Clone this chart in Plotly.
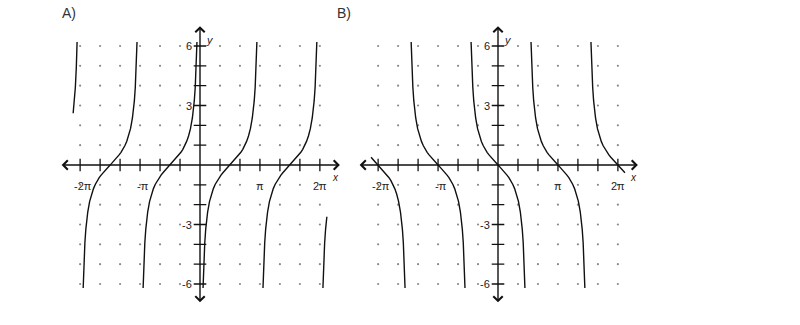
import numpy as np
import plotly.graph_objects as go

PI = np.pi

# One branch of each curve: offset from the branch's left asymptote -> y
BRANCH_T = [0.16, 0.2, 0.25, 0.3, 0.366, 0.4, 0.5, 0.6, 0.7, 0.8, 0.9, 1.0, 1.1, 1.2, 1.3, 1.4, 1.5,
            1.571,
            1.642, 1.742, 1.842, 1.942, 2.042, 2.142, 2.242, 2.342, 2.442, 2.542, 2.642, 2.742,
            2.776, 2.842, 2.892, 2.942, 2.982]
BRANCH_Y_A = [-6.2, -4.93, -3.92, -3.23, -2.61, -2.37, -1.83, -1.46, -1.19, -0.97, -0.79, -0.64,
              -0.51, -0.39, -0.28, -0.17, -0.07,
              0.0,
              0.07, 0.17, 0.28, 0.39, 0.51, 0.64, 0.79, 0.97, 1.19, 1.46, 1.83, 2.37,
              2.61, 3.23, 3.92, 4.93, 6.2]
BRANCH_Y_B = [6.2, 4.93, 3.92, 3.23, 2.61, 2.37, 1.83, 1.46, 1.19, 0.97, 0.79, 0.64,
              0.51, 0.39, 0.28, 0.17, 0.07,
              0.0,
              -0.07, -0.17, -0.28, -0.39, -0.51, -0.64, -0.79, -0.97, -1.19, -1.46, -1.83, -2.37,
              -2.61, -3.23, -3.92, -4.93, -6.2]

# Left asymptotes of the branches in each panel
ASYM_A = [-3 * PI, -2 * PI, -PI, 0.0, PI, 2 * PI]
ASYM_B = [-2.5 * PI, -1.5 * PI, -0.5 * PI, 0.5 * PI, 1.5 * PI]
X_LIMIT = 6.66  # domain of the plotted function (both panels)

# Grid / ticks
GRID_X_STEPS = [k for k in range(-6, 7) if k != 0]      # multiples of pi/3
GRID_Y_VALS = [j for j in range(-6, 7) if j != 0]
X_TICK_VALS = [-2 * PI, -PI, PI, 2 * PI]
X_TICK_LABELS = ["-2π", "-π", "π", "2π"]
Y_TICK_VALS = [6, 3, -3, -6]
Y_TICK_LABELS = ["6", "3", "-3", "-6"]
PANEL_LABELS = ["A)", "B)"]

X_AXIS_END = 7 * PI / 3
Y_AXIS_END = 7.0

FONT = "Liberation Sans, Arial, sans-serif"

fig = go.Figure()
annotations = []


def branch_xy(asyms, ys):
    xs, yv = [], []
    for a in asyms:
        seg_x, seg_y = [], []
        for t, y in zip(BRANCH_T, ys):
            x = a + t
            if -X_LIMIT <= x <= X_LIMIT:
                seg_x.append(x)
                seg_y.append(y)
        if seg_x:
            xs += seg_x + [None]
            yv += seg_y + [None]
    return xs, yv


panels = [
    ("x", "y", ASYM_A, BRANCH_Y_A, [0.06875, 0.43125], 60),
    ("x2", "y2", ASYM_B, BRANCH_Y_B, [0.44125, 0.80375], 335),
]

grid_x = [k * PI / 3 for k in GRID_X_STEPS]

for i, (xr, yr, asyms, ys, dom, label_px) in enumerate(panels):
    gx, gy = [], []
    for x in grid_x:
        for y in GRID_Y_VALS:
            gx.append(x)
            gy.append(y)
    fig.add_trace(go.Scatter(x=gx, y=gy, mode="markers", xaxis=xr, yaxis=yr,
                             marker=dict(size=2.2, color="#8a8a8a"),
                             hoverinfo="skip", showlegend=False))
    cx, cy = branch_xy(asyms, ys)
    fig.add_trace(go.Scatter(x=cx, y=cy, mode="lines", xaxis=xr, yaxis=yr,
                             line=dict(color="#111", width=1.4),
                             connectgaps=False, hoverinfo="skip", showlegend=False))
    # tick marks
    fig.add_trace(go.Scatter(x=grid_x, y=[0] * len(grid_x), mode="markers", xaxis=xr, yaxis=yr,
                             marker=dict(symbol="line-ns", size=9,
                                         line=dict(width=1.3, color="#111")),
                             hoverinfo="skip", showlegend=False))
    fig.add_trace(go.Scatter(x=[0] * len(GRID_Y_VALS), y=GRID_Y_VALS, mode="markers",
                             xaxis=xr, yaxis=yr,
                             marker=dict(symbol="line-ew", size=9,
                                         line=dict(width=1.3, color="#111")),
                             hoverinfo="skip", showlegend=False))
    # axes with arrows at both ends
    annotations.append(dict(x=X_AXIS_END, y=0, ax=-X_AXIS_END, ay=0, xref=xr, yref=yr,
                            axref=xr, ayref=yr, text="", showarrow=True,
                            arrowhead=4, startarrowhead=4, arrowside="end+start",
                            arrowsize=1.3, startarrowsize=1.3, arrowwidth=1.4,
                            arrowcolor="#111"))
    annotations.append(dict(x=0, y=Y_AXIS_END, ax=0, ay=-Y_AXIS_END, xref=xr, yref=yr,
                            axref=xr, ayref=yr, text="", showarrow=True,
                            arrowhead=4, startarrowhead=4, arrowside="end+start",
                            arrowsize=1.3, startarrowsize=1.3, arrowwidth=1.4,
                            arrowcolor="#111"))
    # tick labels
    for v, t in zip(X_TICK_VALS, X_TICK_LABELS):
        annotations.append(dict(x=v, y=0, xref=xr, yref=yr, text=t, showarrow=False,
                                xanchor="center", yanchor="middle", yshift=-21,
                                xshift=3 if v < 0 else 0,
                                font=dict(family=FONT, size=11, color="#222")))
    for v, t in zip(Y_TICK_VALS, Y_TICK_LABELS):
        annotations.append(dict(x=0, y=v, xref=xr, yref=yr, text=t, showarrow=False,
                                xanchor="right", yanchor="middle", xshift=-6,
                                font=dict(family=FONT, size=11, color="#222")))
    # axis names
    annotations.append(dict(x=7.1, y=-0.65, xref=xr, yref=yr, text="<i>x</i>", showarrow=False,
                            xanchor="center", yanchor="middle",
                            font=dict(family=FONT, size=10, color="#222")))
    annotations.append(dict(x=0.5, y=6.3, xref=xr, yref=yr, text="<i>y</i>", showarrow=False,
                            xanchor="center", yanchor="middle",
                            font=dict(family=FONT, size=11, color="#222")))
    # panel label
    annotations.append(dict(x=label_px / 800, y=1 - 13 / 325, xref="paper", yref="paper",
                            text=PANEL_LABELS[i], showarrow=False, xanchor="left",
                            yanchor="middle", font=dict(family=FONT, size=14, color="#333")))

axis_common = dict(visible=False, fixedrange=True)
fig.update_layout(
    width=800, height=325,
    margin=dict(l=0, r=0, t=0, b=0),
    paper_bgcolor="white", plot_bgcolor="white",
    showlegend=False,
    xaxis=dict(range=[-7.6, 7.6], domain=panels[0][4], anchor="y", **axis_common),
    yaxis=dict(range=[-7.3, 7.3], domain=[0.0468, 0.9378], anchor="x", **axis_common),
    xaxis2=dict(range=[-7.6, 7.6], domain=panels[1][4], anchor="y2", **axis_common),
    yaxis2=dict(range=[-7.3, 7.3], domain=[0.0468, 0.9378], anchor="x2", **axis_common),
    annotations=annotations,
)

fig.write_html("out.html")
